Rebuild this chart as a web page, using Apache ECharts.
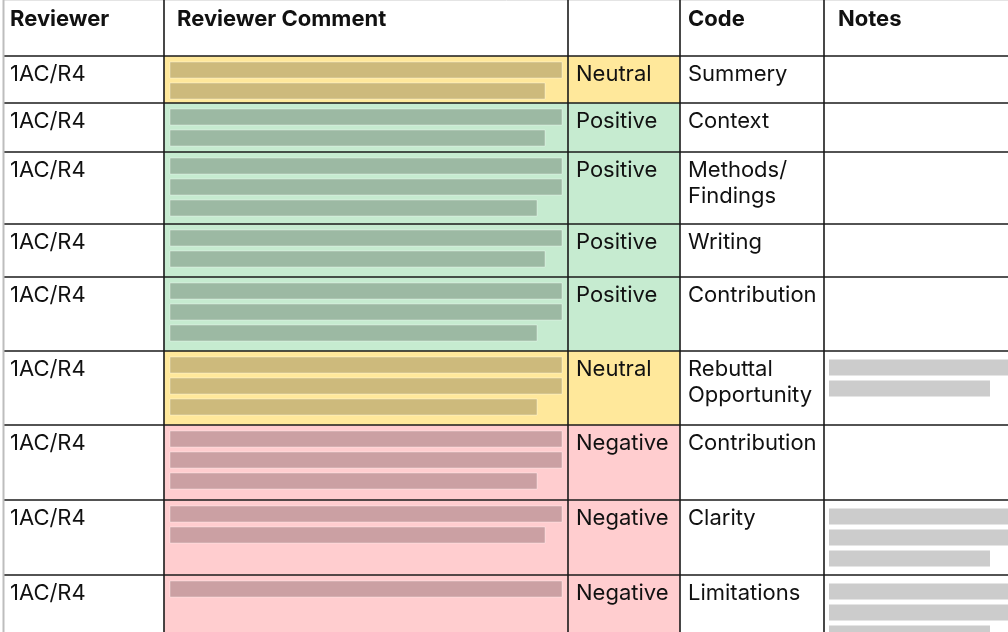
<!DOCTYPE html>
<html>
<head>
<meta charset="utf-8">
<style>
  html, body { margin: 0; padding: 0; background: #fff; }
  #main { width: 1008px; height: 632px; }
</style>
<script src="https://cdn.jsdelivr.net/npm/echarts@6.0.0/dist/echarts.min.js"></script>
</head>
<body>
<div id="main"></div>
<script>
// table contents
const headers = ["Reviewer", "Reviewer Comment", "", "Code", "Notes"];
const reviewers = ["1AC/R4", "1AC/R4", "1AC/R4", "1AC/R4", "1AC/R4", "1AC/R4", "1AC/R4", "1AC/R4", "1AC/R4"];
const sentiments = ["Neutral", "Positive", "Positive", "Positive", "Positive", "Neutral", "Negative", "Negative", "Negative"];
const codes = ["Summery", "Context", "Methods/\nFindings", "Writing", "Contribution", "Rebuttal\nOpportunity", "Contribution", "Clarity", "Limitations"];
// redacted text lines, length of each line
const commentLines = [
    [392, 375],
    [392, 375],
    [392, 392, 367],
    [392, 375],
    [392, 392, 367],
    [392, 392, 367],
    [392, 392, 367],
    [392, 375],
    [392],
];
const noteLines = [
    [],
    [],
    [],
    [],
    [],
    [220, 161],
    [],
    [220, 220, 161],
    [220, 220, 161],
];

// layout
const colEdges = [4, 164, 568, 680, 824, 1100];
const headerX = [10, 177, 576, 688, 838];
const headerHeight = 56;
const rowHeights = [47, 49, 72, 53, 74, 74, 75, 75, 90];
const rowTops = [];
let acc = headerHeight;
rowHeights.forEach((h) => { rowTops.push(acc); acc += h; });

const palette = {
    Neutral: { cell: "#ffe89b", bar: "#cdba7c" },
    Positive: { cell: "#c6ebd0", bar: "#9cb9a3" },
    Negative: { cell: "#ffcdcf", bar: "#cba0a3" },
};
const FONT = "Inter, 'Noto Sans', sans-serif";
const BAR_H = 16;
const BAR_STEP = 21;

function rectOf(api, x0, y0, x1, y1) {
    const a = api.coord([x0, y0]);
    const b = api.coord([x1, y1]);
    return { x: a[0], y: a[1], width: b[0] - a[0], height: b[1] - a[1] };
}

function renderRow(params, api) {
    const i = api.value(0);
    const top = rowTops[i];
    const bottom = top + rowHeights[i];
    const colors = palette[sentiments[i]];
    const children = [];
    children.push({
        type: "rect",
        shape: rectOf(api, colEdges[1], top, colEdges[3], bottom),
        style: { fill: colors.cell },
    });
    commentLines[i].forEach((len, k) => {
        const y = top + 6 + k * BAR_STEP;
        children.push({
            type: "rect",
            shape: rectOf(api, colEdges[1] + 6, y, colEdges[1] + 6 + len, y + BAR_H),
            style: { fill: colors.bar, stroke: "rgba(255,255,255,0.35)", lineWidth: 1 },
        });
    });
    noteLines[i].forEach((len, k) => {
        const y = top + 8.5 + k * BAR_STEP;
        children.push({
            type: "rect",
            shape: rectOf(api, colEdges[4] + 5, y, colEdges[4] + 5 + len, y + BAR_H),
            style: { fill: "#cccccc" },
        });
    });
    const texts = [reviewers[i], null, sentiments[i], codes[i]];
    texts.forEach((t, c) => {
        if (!t) return;
        const p = api.coord([colEdges[c] + (c === 0 ? 6 : 8), top + 5]);
        children.push({
            type: "text",
            style: {
                text: t, x: p[0], y: p[1],
                fill: "#111", fontSize: 22, fontFamily: FONT,
                lineHeight: 26, align: "left", verticalAlign: "top",
            },
        });
    });
    return { type: "group", children };
}

function renderFrame(params, api) {
    const children = [];
    const bottom = acc;
    headers.forEach((h, c) => {
        if (!h) return;
        const p = api.coord([headerX[c], 6]);
        children.push({
            type: "text",
            style: {
                text: h, x: p[0], y: p[1],
                fill: "#111", fontSize: 22, fontWeight: "bold", fontFamily: FONT,
                lineHeight: 26, align: "left", verticalAlign: "top",
            },
        });
    });
    const line = (x0, y0, x1, y1, color, w) => {
        const a = api.coord([x0, y0]);
        const b = api.coord([x1, y1]);
        children.push({
            type: "line",
            shape: { x1: a[0], y1: a[1], x2: b[0], y2: b[1] },
            style: { stroke: color, lineWidth: w },
        });
    };
    line(colEdges[0], 0.5, colEdges[5], 0.5, "#e4e4e4", 1);
    [headerHeight].concat(rowTops.slice(1)).forEach((y) => {
        line(colEdges[0], y, colEdges[5], y, "#1a1a1a", 1.6);
    });
    colEdges.slice(1, 5).forEach((x) => line(x, 0, x, bottom, "#1a1a1a", 1.6));
    line(colEdges[0] - 0.5, 0, colEdges[0] - 0.5, bottom, "#bdbdbd", 2);
    return { type: "group", children };
}

const chart = echarts.init(document.getElementById("main"));
chart.setOption({
    animation: false,
    grid: { left: 0, right: 0, top: 0, bottom: 0 },
    xAxis: { type: "value", min: 0, max: 1008, show: false },
    yAxis: { type: "value", min: 0, max: 632, inverse: true, show: false },
    series: [
        {
            type: "custom",
            silent: true,
            clip: true,
            renderItem: renderRow,
            data: reviewers.map((r, i) => [i]),
        },
        {
            type: "custom",
            silent: true,
            clip: true,
            renderItem: renderFrame,
            data: [[0]],
        },
    ],
});
</script>
</body>
</html>
